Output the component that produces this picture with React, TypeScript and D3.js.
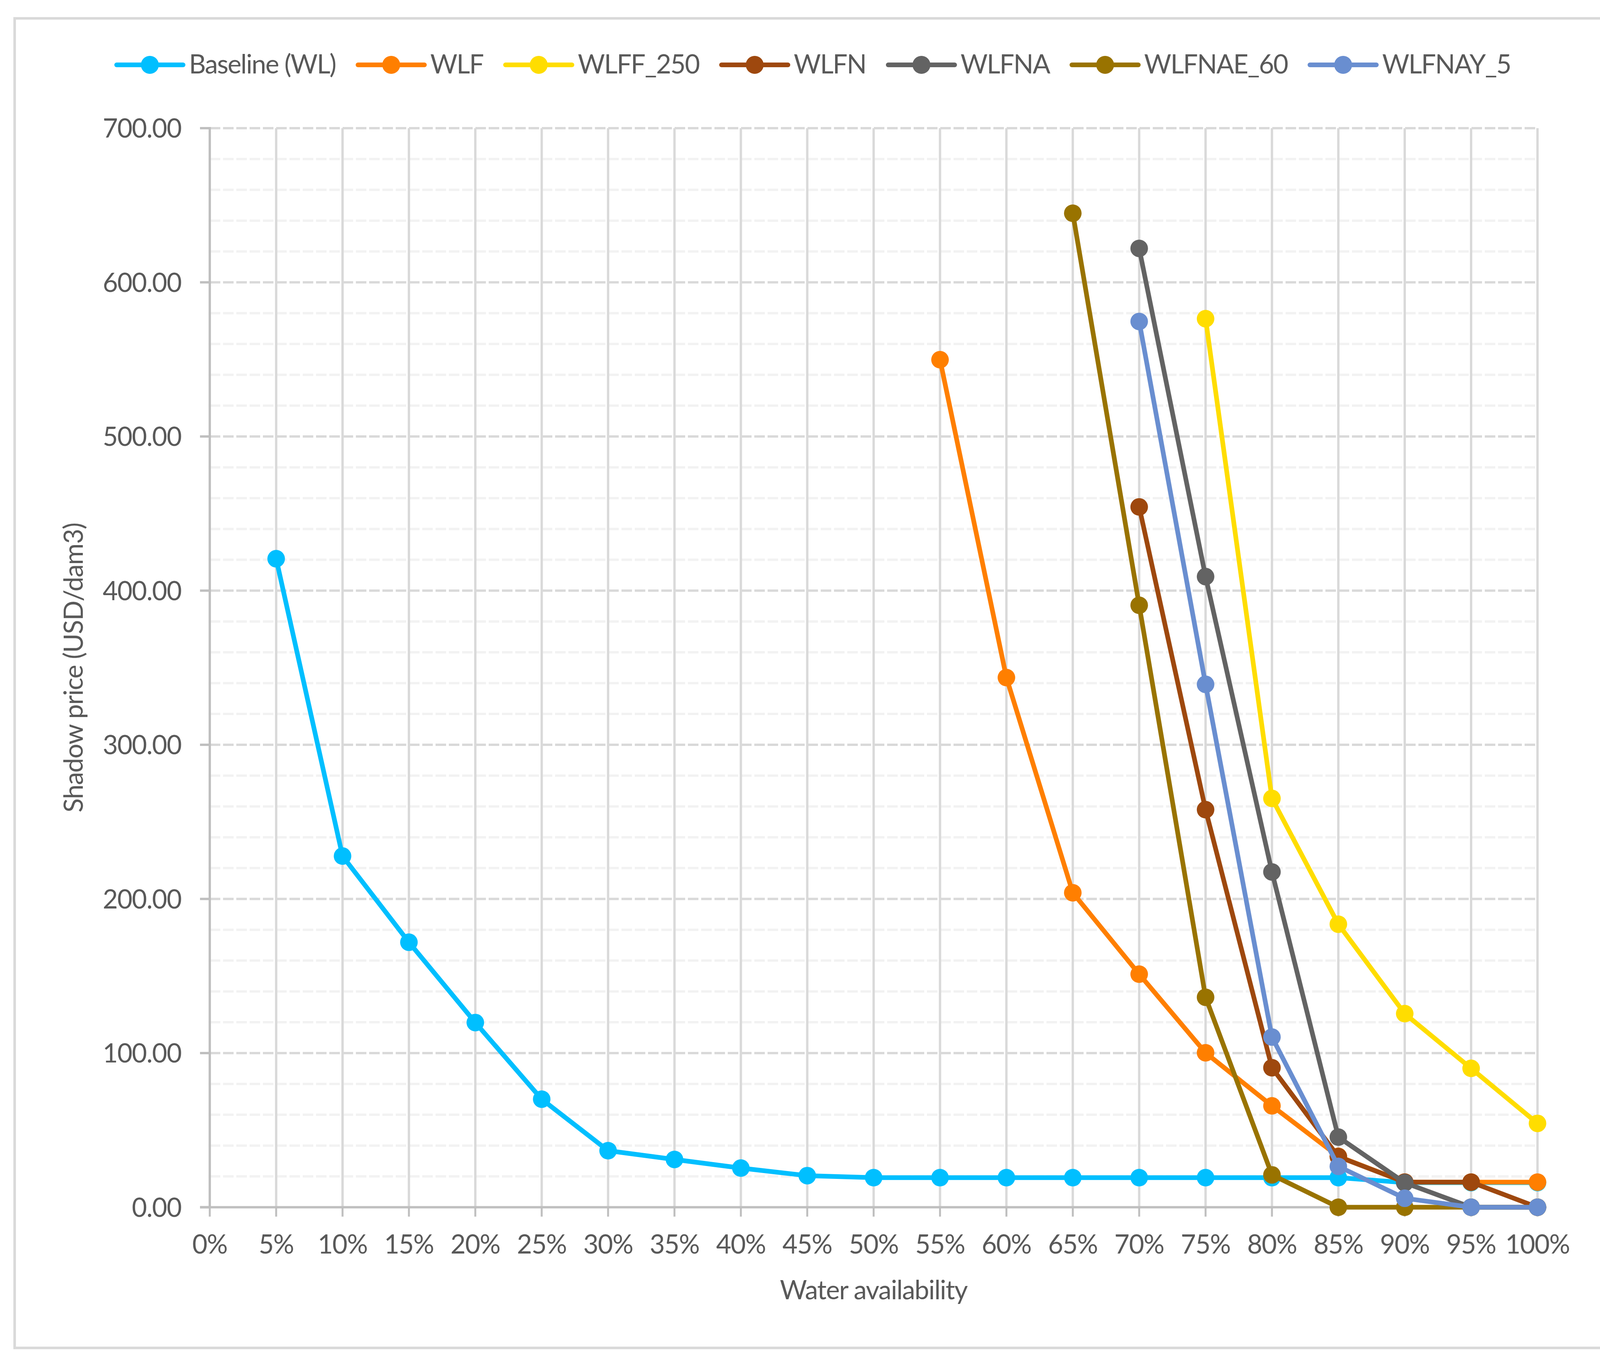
import React, { useEffect, useRef } from 'react';
import * as d3 from 'd3';

// water availability categories (x axis)
const categories = [
  '0%', '5%', '10%', '15%', '20%', '25%', '30%', '35%', '40%', '45%', '50%',
  '55%', '60%', '65%', '70%', '75%', '80%', '85%', '90%', '95%', '100%',
];

// shadow prices (USD/dam3), one value per category, null = no point
const baselineWL = [null, 420.7, 227.8, 171.9, 119.8, 70.1, 36.7, 31.0, 25.4, 20.5, 19.2,
  19.2, 19.2, 19.2, 19.2, 19.2, 19.2, 19.2, 16.0, 16.0, 16.0];
const wlf = [null, null, null, null, null, null, null, null, null, null, null,
  549.8, 343.6, 204.0, 151.2, 100.2, 65.8, 33.0, 16.3, 16.3, 16.3];
const wlff250 = [null, null, null, null, null, null, null, null, null, null, null,
  null, null, null, null, 576.4, 265.2, 183.6, 125.6, 90.1, 54.4];
const wlfn = [null, null, null, null, null, null, null, null, null, null, null,
  null, null, null, 454.3, 257.9, 90.5, 32.8, 16.3, 16.3, 0];
const wlfna = [null, null, null, null, null, null, null, null, null, null, null,
  null, null, null, 622.0, 409.1, 217.5, 45.5, 15.9, 0, 0];
const wlfnae60 = [null, null, null, null, null, null, null, null, null, null, null,
  null, null, 644.8, 390.5, 136.2, 21.0, 0, 0, 0, 0];
const wlfnay5 = [null, null, null, null, null, null, null, null, null, null, null,
  null, null, null, 574.6, 339.2, 110.4, 26.5, 5.8, 0, 0];

const seriesNames = ['Baseline (WL)', 'WLF', 'WLFF_250', 'WLFN', 'WLFNA', 'WLFNAE_60', 'WLFNAY_5'];
const seriesColors = ['#00BFFF', '#FF7F00', '#FFDD00', '#9E480E', '#636363', '#997300', '#698ED0'];
const seriesValues = [baselineWL, wlf, wlff250, wlfn, wlfna, wlfnae60, wlfnay5];

const yMax = 700;
const yTitle = 'Shadow price (USD/dam3)';
const xTitle = 'Water availability';

const W = 4150;
const H = 3483;

const App: React.FC = () => {
  const svgRef = useRef<SVGSVGElement>(null);

  useEffect(() => {
    if (!svgRef.current) return;
    const svg = d3.select(svgRef.current);
    svg.selectAll('*').remove();

    const font = "Lato, 'Open Sans', sans-serif";
    const fs = 67;
    const ls = '-1.5px';
    const textColor = '#595959';

    const left = 537, right = 3936, top = 328, bottom = 3089.5;

    const x = d3.scalePoint<string>().domain(categories).range([left, right]);
    const y = d3.scaleLinear().domain([0, yMax]).range([bottom, top]);

    // chart frame
    svg.append('rect')
      .attr('x', 37.5).attr('y', 47)
      .attr('width', 4074.5).attr('height', 3402.5)
      .attr('fill', '#fff')
      .attr('stroke', '#d9d9d9')
      .attr('stroke-width', 6.5);

    const grid = svg.append('g');

    // minor horizontal gridlines
    grid.selectAll('line.minor')
      .data(d3.range(20, yMax + 1, 20).filter(v => v % 100 !== 0))
      .join('line')
      .attr('x1', left).attr('x2', right)
      .attr('y1', d => y(d)).attr('y2', d => y(d))
      .attr('stroke', '#f2f2f2')
      .attr('stroke-width', 6)
      .attr('stroke-dasharray', '27 7');

    // vertical gridlines
    grid.selectAll('line.v')
      .data(categories.slice(1))
      .join('line')
      .attr('x1', d => x(d)!).attr('x2', d => x(d)!)
      .attr('y1', top).attr('y2', bottom)
      .attr('stroke', '#d9d9d9')
      .attr('stroke-width', 6);

    // major horizontal gridlines
    grid.selectAll('line.major')
      .data(d3.range(100, yMax + 1, 100))
      .join('line')
      .attr('x1', left).attr('x2', right)
      .attr('y1', d => y(d)).attr('y2', d => y(d))
      .attr('stroke', '#d9d9d9')
      .attr('stroke-width', 6)
      .attr('stroke-dasharray', '27 7');

    // axes
    const axisColor = '#bfbfbf';
    const yTicks = d3.range(0, yMax + 1, 100);
    svg.append('line')
      .attr('x1', left).attr('x2', left)
      .attr('y1', top - 3).attr('y2', bottom)
      .attr('stroke', axisColor).attr('stroke-width', 6);
    svg.append('g').selectAll('line')
      .data(yTicks)
      .join('line')
      .attr('x1', left - 25).attr('x2', left)
      .attr('y1', d => y(d)).attr('y2', d => y(d))
      .attr('stroke', axisColor).attr('stroke-width', 6);
    svg.append('g').selectAll('line')
      .data(categories)
      .join('line')
      .attr('x1', d => x(d)!).attr('x2', d => x(d)!)
      .attr('y1', bottom).attr('y2', bottom + 24)
      .attr('stroke', axisColor).attr('stroke-width', 5);
    svg.append('line')
      .attr('x1', left - 25).attr('x2', right + 3)
      .attr('y1', bottom).attr('y2', bottom)
      .attr('stroke', axisColor).attr('stroke-width', 6);

    // tick labels
    svg.append('g')
      .style('font-family', font).style('font-size', `${fs}px`)
      .style('letter-spacing', ls)
      .attr('fill', textColor)
      .attr('text-anchor', 'end')
      .selectAll('text')
      .data(yTicks)
      .join('text')
      .attr('x', 464)
      .attr('y', d => y(d) + 24)
      .text(d => d3.format('.2f')(d));

    svg.append('g')
      .style('font-family', font).style('font-size', `${fs}px`)
      .style('letter-spacing', ls)
      .attr('fill', textColor)
      .attr('text-anchor', 'middle')
      .selectAll('text')
      .data(categories)
      .join('text')
      .attr('x', d => x(d)!)
      .attr('y', 3208)
      .text(d => d);

    // axis titles
    svg.append('text')
      .attr('transform', `translate(212,${(top + bottom) / 2}) rotate(-90)`)
      .attr('text-anchor', 'middle')
      .style('font-family', font).style('font-size', `${fs}px`)
      .style('letter-spacing', ls)
      .attr('fill', textColor)
      .text(yTitle);
    svg.append('text')
      .attr('x', (left + right) / 2).attr('y', 3325)
      .attr('text-anchor', 'middle')
      .style('font-family', font).style('font-size', `${fs}px`)
      .style('letter-spacing', ls)
      .attr('fill', textColor)
      .text(xTitle);

    // series
    const line = d3.line<number | null>()
      .defined(d => d !== null)
      .x((_, i) => x(categories[i])!)
      .y(d => y(d as number));

    const plot = svg.append('g');
    seriesValues.forEach((vals, si) => {
      const g = plot.append('g');
      g.append('path')
        .datum(vals)
        .attr('d', line)
        .attr('fill', 'none')
        .attr('stroke', seriesColors[si])
        .attr('stroke-width', 12)
        .attr('stroke-linejoin', 'round')
        .attr('stroke-linecap', 'round');
      g.selectAll('circle')
        .data(vals.map((v, i) => ({ v, c: categories[i] })).filter(d => d.v !== null))
        .join('circle')
        .attr('cx', d => x(d.c)!)
        .attr('cy', d => y(d.v as number))
        .attr('r', 22.5)
        .attr('fill', seriesColors[si]);
    });

    // legend
    const legend = svg.append('g');
    const legendY = 166;
    const lineLen = 170;
    const items = seriesNames.map((name, i) => {
      const g = legend.append('g');
      g.append('line')
        .attr('x1', 0).attr('x2', lineLen)
        .attr('y1', legendY).attr('y2', legendY)
        .attr('stroke', seriesColors[i])
        .attr('stroke-width', 12)
        .attr('stroke-linecap', 'round');
      g.append('circle')
        .attr('cx', lineLen / 2).attr('cy', legendY)
        .attr('r', 23)
        .attr('fill', seriesColors[i]);
      const t = g.append('text')
        .attr('x', lineLen + 15).attr('y', legendY + 22)
        .style('font-family', font).style('font-size', `${fs}px`)
        .style('letter-spacing', '-2px')
        .attr('fill', textColor)
        .text(name);
      const w = (t.node() as SVGTextElement).getComputedTextLength();
      return { g, w: lineLen + 15 + w };
    });
    const gap = 57;
    const total = d3.sum(items, d => d.w) + gap * (items.length - 1);
    let cx = 2083 - total / 2;
    items.forEach(it => {
      it.g.attr('transform', `translate(${cx},0)`);
      cx += it.w + gap;
    });
  }, []);

  return (
    <svg
      ref={svgRef}
      width={W}
      height={H}
      style={{ position: 'absolute', left: 0, top: 0, background: '#fff', display: 'block' }}
    />
  );
};

export default App;
